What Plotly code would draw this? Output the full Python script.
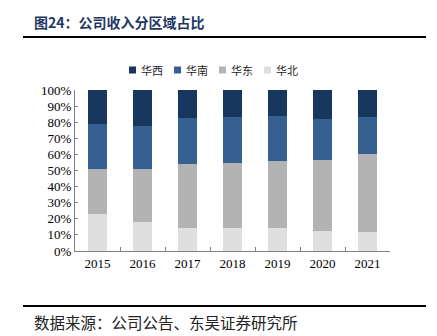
import plotly.graph_objects as go

years = ["2015", "2016", "2017", "2018", "2019", "2020", "2021"]
series_names = ["华北", "华东", "华南", "华西"]
huabei = [22.8, 17.8, 14.5, 14.3, 14.5, 12.4, 12.0]
huadong = [27.9, 33.1, 39.5, 40.2, 41.4, 44.1, 48.5]
huanan = [28.4, 26.7, 28.8, 28.5, 28.2, 25.7, 22.9]
huaxi = [20.9, 22.4, 17.2, 17.0, 15.9, 17.8, 16.6]
series_values = [huabei, huadong, huanan, huaxi]
colors = ["#DFDFDF", "#B3B3B3", "#376092", "#17375E"]
y_ticks = list(range(0, 101, 10))
y_tick_labels = [f"{v}%" for v in y_ticks]

W, H = 437, 336
L, R, T, B = 75, 47, 90, 85
pw, ph = W - L - R, H - T - B

def px(x):
    return (x - L) / pw

def py(y):
    return (H - B - y) / ph

fig = go.Figure()
for name, vals, col in zip(series_names, series_values, colors):
    fig.add_trace(go.Bar(x=years, y=vals, name=name, marker=dict(color=col, line=dict(width=0)),
                         showlegend=False))

serif = "Liberation Serif, Times New Roman, serif"
cjk = "Noto Sans CJK SC, sans-serif"

fig.update_layout(
    width=W, height=H, barmode="stack", bargap=0.57,
    margin=dict(l=L, r=R, t=T, b=B, pad=0),
    paper_bgcolor="white", plot_bgcolor="white",
    showlegend=False,
    xaxis=dict(type="category", showline=True, linecolor="#808080", linewidth=1,
               ticks="inside", ticklen=4, tickcolor="#808080", tickson="boundaries",
               tickfont=dict(family=serif, size=13, color="#000"), showgrid=False),
    yaxis=dict(range=[0, 100], tickvals=y_ticks, ticktext=y_tick_labels,
               showline=True, linecolor="#808080", linewidth=1,
               ticks="inside", ticklen=3, tickcolor="#808080",
               tickfont=dict(family=serif, size=13, color="#000"), showgrid=False),
)

# Manual legend (order: 华西, 华南, 华东, 华北)
leg_x0 = 129
leg_y = 70
sq = 7
for i, idx in enumerate([3, 2, 1, 0]):
    cx = leg_x0 + i * 45
    fig.add_shape(type="rect", xref="paper", yref="paper",
                  x0=px(cx), x1=px(cx + sq), y0=py(leg_y + sq / 2), y1=py(leg_y - sq / 2),
                  fillcolor=colors[idx], line=dict(width=0))
    fig.add_annotation(xref="paper", yref="paper", x=px(cx + sq + 3), y=py(leg_y),
                       text=series_names[idx], showarrow=False, xanchor="left", yanchor="middle",
                       font=dict(family=cjk, size=11, color="#222"))

# Title and rule
fig.add_annotation(xref="paper", yref="paper", x=px(32), y=py(22), text="<b>图24：公司收入分区域占比</b>",
                   showarrow=False, xanchor="left", yanchor="middle",
                   font=dict(family=cjk, size=14, color="#1F3864"))
fig.add_shape(type="line", xref="paper", yref="paper", x0=px(23), x1=px(426), y0=py(37), y1=py(37),
              line=dict(color="#000", width=2))
# Footer rule and source
fig.add_shape(type="line", xref="paper", yref="paper", x0=px(23), x1=px(426), y0=py(306), y1=py(306),
              line=dict(color="#000", width=2))
fig.add_annotation(xref="paper", yref="paper", x=px(32), y=py(322), text="数据来源：公司公告、东吴证券研究所",
                   showarrow=False, xanchor="left", yanchor="middle",
                   font=dict(family=cjk, size=15.5, color="#222"))

fig.write_html("out.html")
